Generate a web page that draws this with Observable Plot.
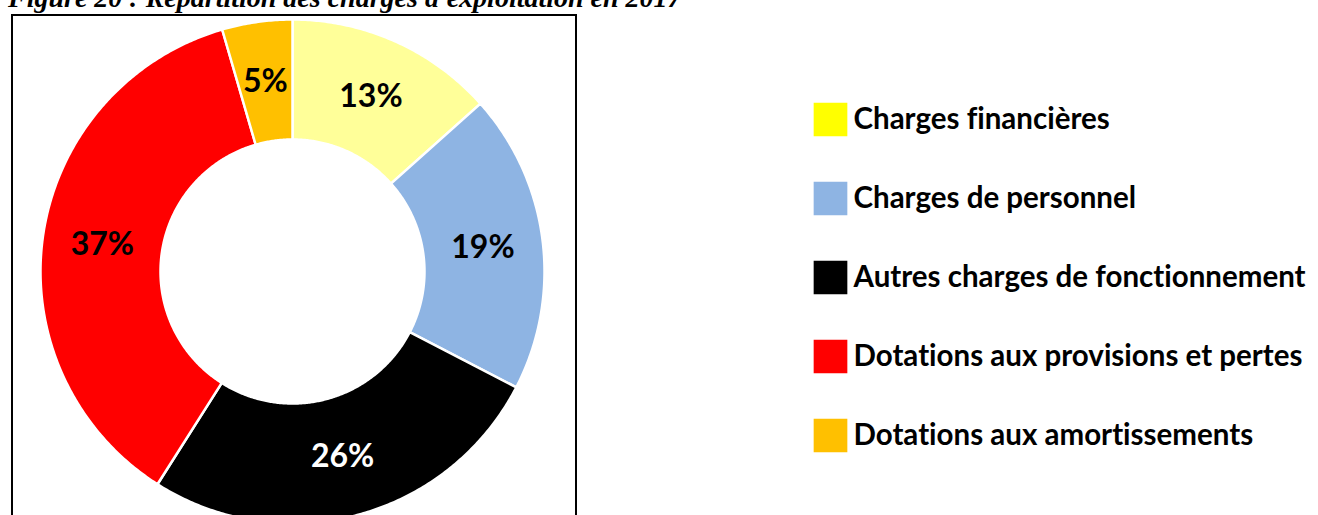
<!DOCTYPE html>
<html>
<head>
<meta charset="utf-8">
<script src="https://cdn.jsdelivr.net/npm/d3@7"></script>
<script src="https://cdn.jsdelivr.net/npm/@observablehq/plot@0.6"></script>
<style>
  html, body { margin: 0; padding: 0; background: #fff; width: 1318px; height: 515px; overflow: hidden; position: relative; }
  #title { position: absolute; left: 8px; top: -16px; font-family: "Liberation Serif", "Times New Roman", serif; font-weight: bold; font-style: italic; font-size: 28px; line-height: 28px; white-space: nowrap; color: #000; }
  #box { position: absolute; left: 11px; top: 14px; width: 562px; height: 620px; border: 2px solid #000; }
  #donut { position: absolute; left: 0; top: 0; }
  #legend { position: absolute; left: 800px; top: 0; }
  svg text { font-variant-ligatures: none; }
</style>
</head>
<body>
<div id="title">Figure 20 : Répartition des charges d'exploitation en 2017</div>
<div id="box"></div>
<div id="donut"></div>
<div id="legend"></div>
<script>
// ---- data ----
const categories = [
  "Charges financières",
  "Charges de personnel",
  "Autres charges de fonctionnement",
  "Dotations aux provisions et pertes",
  "Dotations aux amortissements"
];
const values = [13.4, 19.2, 26.4, 36.5, 4.5];
const labels = ["13%", "19%", "26%", "37%", "5%"];
const sliceColors = ["#FFFF99", "#8EB4E3", "#000000", "#FF0000", "#FFC000"];
const legendColors = ["#FFFF00", "#8EB4E3", "#000000", "#FF0000", "#FFC000"];
const labelColors = ["#000000", "#000000", "#FFFFFF", "#000000", "#000000"];

// ---- geometry from the data ----
const innerRatio = 132 / 252;
const arcs = d3.pie().sort(null).value(d => d)(values);
const ring = [];
arcs.forEach((a, i) => {
  const cat = categories[i];
  const n = Math.max(4, Math.ceil((a.endAngle - a.startAngle) / (Math.PI / 360)));
  const pts = [];
  for (let k = 0; k <= n; k++) {
    const t = a.startAngle + (a.endAngle - a.startAngle) * k / n;
    pts.push({category: cat, x: Math.sin(t), y: Math.cos(t)});
  }
  for (let k = n; k >= 0; k--) {
    const t = a.startAngle + (a.endAngle - a.startAngle) * k / n;
    pts.push({category: cat, x: innerRatio * Math.sin(t), y: innerRatio * Math.cos(t)});
  }
  pts.push({...pts[0]});
  ring.push(...pts);
});
const rMid = (1 + innerRatio) / 2;
const labelData = arcs.map((a, i) => {
  const m = (a.startAngle + a.endAngle) / 2;
  return {category: categories[i], label: labels[i], color: labelColors[i], x: rMid * Math.sin(m), y: rMid * Math.cos(m)};
});

const donut = Plot.plot({
  width: 590,
  height: 540,
  marginLeft: 40,
  marginRight: 46,
  marginTop: 19,
  marginBottom: 17,
  x: {domain: [-1, 1], axis: null},
  y: {domain: [-1, 1], axis: null},
  color: {type: "ordinal", domain: categories, range: sliceColors},
  style: {fontFamily: "Lato, sans-serif", background: "transparent", overflow: "visible"},
  marks: [
    Plot.line(ring, {x: "x", y: "y", z: "category", fill: "category", stroke: "white", strokeWidth: 2.5, curve: "linear"}),
    Plot.text(labelData, {x: "x", y: "y", text: "label", fill: d => d.color, fontSize: 32, fontWeight: "bold"})
  ]
});
document.getElementById("donut").appendChild(donut);

const legendData = categories.map((c, i) => ({category: c, color: legendColors[i]}));
const legend = Plot.plot({
  width: 518,
  height: 515,
  marginLeft: 0,
  marginRight: 0,
  marginTop: 0,
  marginBottom: 0,
  x: {axis: null},
  y: {type: "point", domain: categories, range: [119, 435], padding: 0, axis: null},
  style: {fontFamily: "Lato, sans-serif", background: "transparent", overflow: "visible"},
  marks: [
    Plot.dot(legendData, {y: "category", frameAnchor: "left", dx: 30, symbol: "square", r: 19, fill: d => d.color, stroke: null}),
    Plot.text(legendData, {y: "category", frameAnchor: "left", dx: 53, text: "category", textAnchor: "start", fontSize: 29.5, fontWeight: "bold", fill: "#000"})
  ]
});
document.getElementById("legend").appendChild(legend);
</script>
</body>
</html>
